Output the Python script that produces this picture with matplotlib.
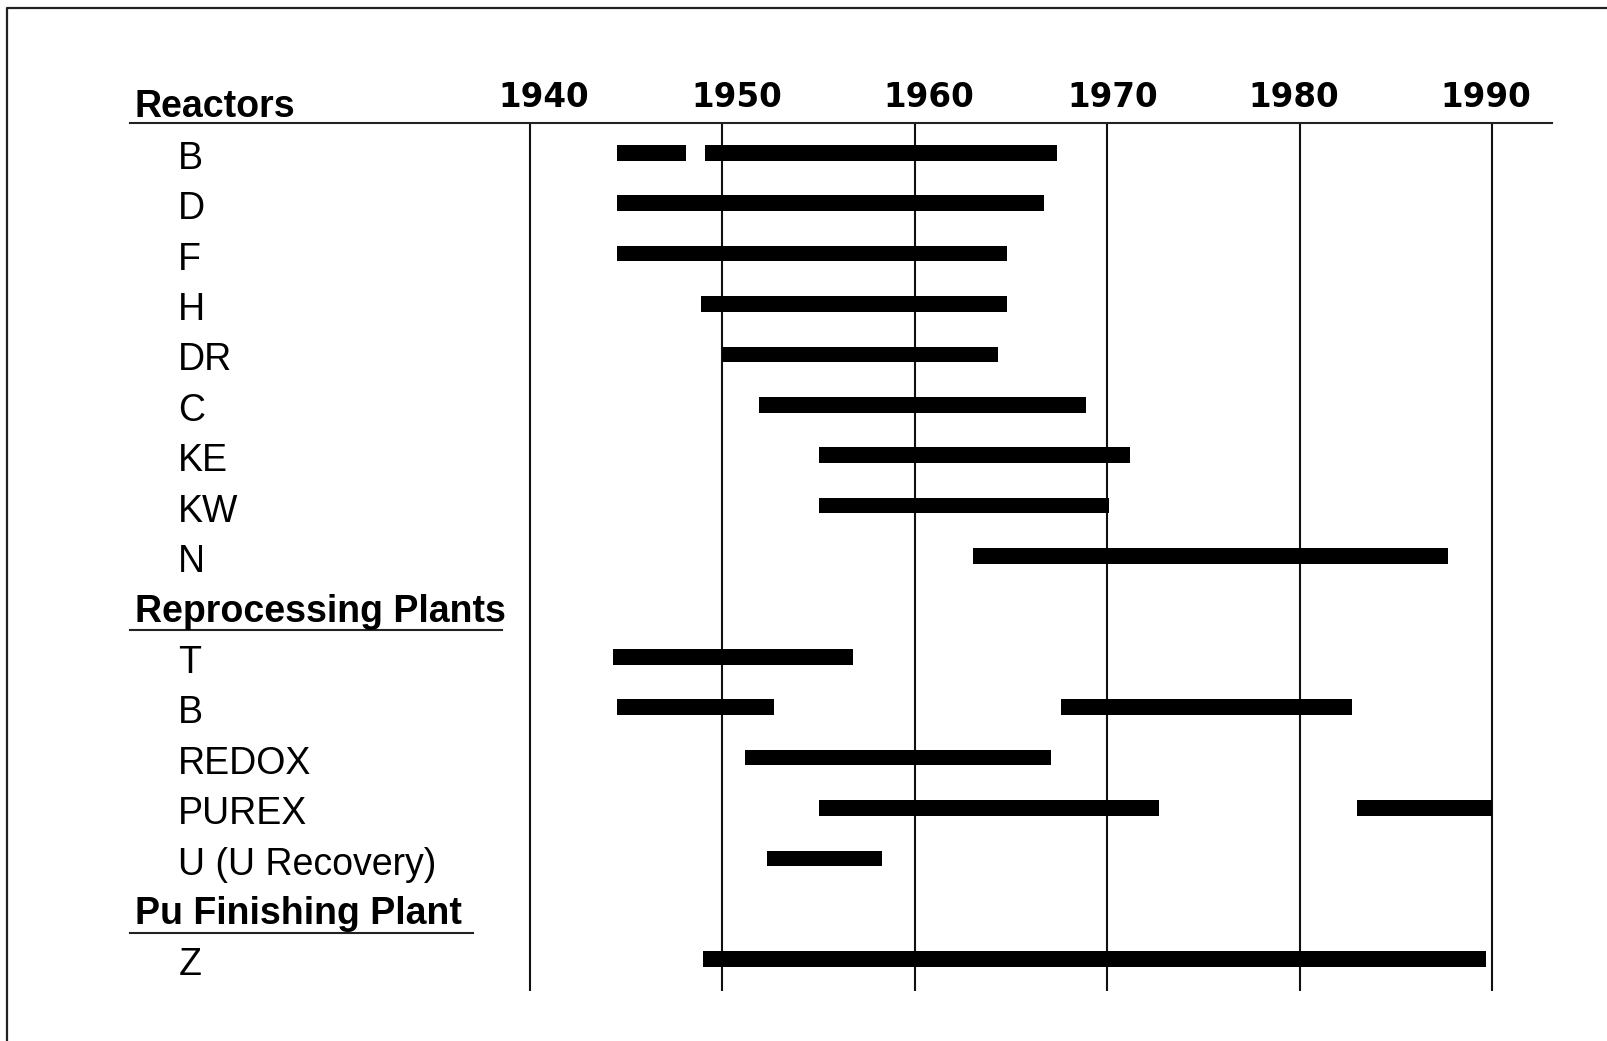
import matplotlib
matplotlib.use("Agg")
import matplotlib.pyplot as plt
import matplotlib.transforms as mtransforms
from matplotlib.lines import Line2D

# Operating periods (start year, end year)
group_names = ["Reactors", "Reprocessing Plants", "Pu Finishing Plant"]

reactors = ["B", "D", "F", "H", "DR", "C", "KE", "KW", "N"]
reactor_spans = [
    [(1944.5, 1948.1), (1949.1, 1967.4)],
    [(1944.5, 1966.7)],
    [(1944.5, 1964.8)],
    [(1948.9, 1964.8)],
    [(1950.0, 1964.3)],
    [(1951.9, 1968.9)],
    [(1955.0, 1971.2)],
    [(1955.0, 1970.1)],
    [(1963.0, 1987.7)],
]

reprocessing = ["T", "B", "REDOX", "PUREX", "U (U Recovery)"]
reprocessing_spans = [
    [(1944.3, 1956.8)],
    [(1944.5, 1952.7), (1967.6, 1982.7)],
    [(1951.2, 1967.1)],
    [(1955.0, 1972.7), (1983.0, 1990.0)],
    [(1952.3, 1958.3)],
]

finishing = ["Z"]
finishing_spans = [[(1949.0, 1989.7)]]

years = [1940, 1950, 1960, 1970, 1980, 1990]

W, H = 1608, 1041
fig = plt.figure(figsize=(W / 100, H / 100), dpi=100)

# plot area in pixels: header line at y=122.5, grid ends at y=991
left_px, right_px, top_px, bot_px = 130, 1552, 122.5, 991
ax = fig.add_axes([left_px / W, 1 - bot_px / H,
                   (right_px - left_px) / W, (bot_px - top_px) / H])
ax.set_xlim(1919.21, 1993.12)
ax.set_ylim(17.55, 0.32)
ax.set_xticks([])
ax.set_yticks([])
for side in ["left", "right", "bottom"]:
    ax.spines[side].set_visible(False)
ax.spines["top"].set_linewidth(1.5)
ax.spines["top"].set_color("#222222")

for yr in years:
    ax.axvline(yr, color="#111111", lw=1.5, zorder=1)

trans = mtransforms.blended_transform_factory(ax.transAxes, ax.transData)
item_font = dict(family=["Liberation Sans", "DejaVu Sans"], fontsize=27)

groups = [
    (group_names[0], reactors, reactor_spans, None),
    (group_names[1], reprocessing, reprocessing_spans, 0.2616),
    (group_names[2], finishing, finishing_spans, 0.2412),
]

row = 0
for title, names, spans, uline in groups:
    ax.text(0.0035, row + 0.22, title, transform=trans, va="baseline",
            fontweight="bold", clip_on=False, **item_font)
    if uline is not None:
        ax.plot([0, uline], [row + 0.39, row + 0.39], transform=trans,
                color="#222222", lw=1.5, clip_on=False)
    row += 1
    for name, segs in zip(names, spans):
        ax.text(0.034, row + 0.24, name, transform=trans, va="baseline",
                clip_on=False, **item_font)
        for start, end in segs:
            ax.barh(row - 0.08, end - start, left=start, height=0.31,
                    color="black", zorder=3)
        row += 1

# year labels above the header line
label_shift = [14, 14, 14, 6, -6, -6]
for yr, dx in zip(years, label_shift):
    t = mtransforms.offset_copy(ax.transData, fig=fig, x=dx * 0.72, y=0,
                                units="points")
    ax.text(yr, 0.02, str(yr), transform=t, ha="center", va="baseline",
            fontsize=23.5, fontweight="bold", family="DejaVu Sans",
            clip_on=False)

# outer frame (only left and top edges fall inside the image)
fig.add_artist(Line2D([7 / W, 7 / W, 1.0], [0.0, 1 - 8 / H, 1 - 8 / H],
                      transform=fig.transFigure, color="#222222", lw=1.6))

fig.savefig("out.png", dpi=100)
